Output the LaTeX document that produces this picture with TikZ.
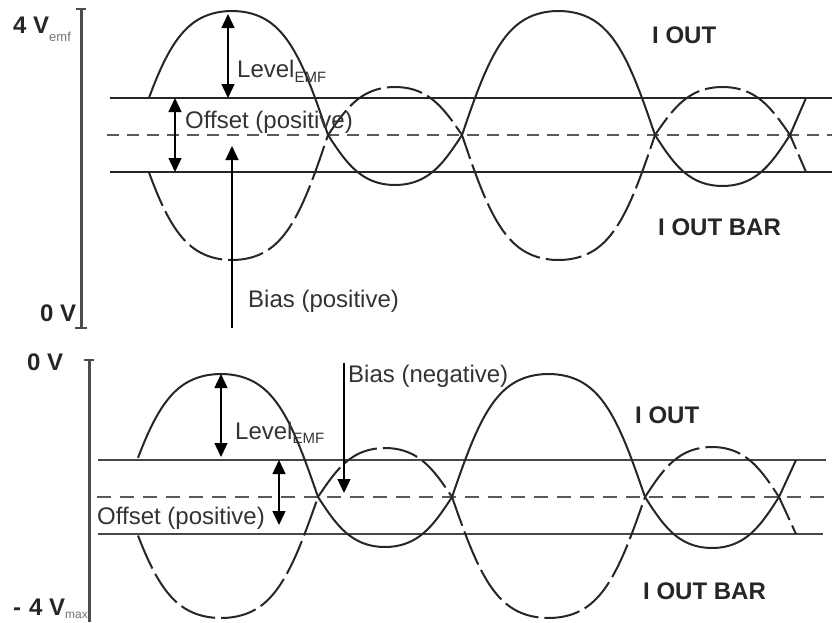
\documentclass[tikz,border=0pt]{standalone}
\usepackage{fontspec}
\setmainfont{Liberation Sans}
\usetikzlibrary{arrows.meta}
\begin{document}
\begin{tikzpicture}[x=1pt,y=-1pt,
  declare function={ss(\t,\a,\b)=sin(180*((\t-\a)/(\b-\a)));
                    lobe(\t,\a,\b)=ss(\t,\a,\b)*1.3/(1+0.3*ss(\t,\a,\b)*ss(\t,\a,\b));
                    blobe(\t,\a,\b)=ss(\t,\a,\b)*1.45/(1+0.45*ss(\t,\a,\b)*ss(\t,\a,\b));},
  wave/.style={line width=2pt, draw=black!85, line join=round},
  wavebar/.style={wave, dash pattern=on 36pt off 6pt},
  refline/.style={line width=1.5pt, draw=black!85},
  midline/.style={line width=1.2pt, draw=black!65, dash pattern=on 12pt off 8pt},
  axisline/.style={line width=3pt, draw=black!70},
  capline/.style={line width=1.8pt, draw=black!70},
  dimarrow/.style={line width=1.4pt, draw=black, {Triangle[length=14pt,width=13pt]}-{Triangle[length=14pt,width=13pt]}},
  onearrow/.style={line width=1.4pt, draw=black, -{Triangle[length=14pt,width=13pt]}},
  lbl/.style={anchor=base west, inner sep=0pt, font=\fontsize{24}{28}\selectfont, text=black!80},
  bigl/.style={anchor=base west, inner sep=0pt, font=\fontsize{24}{28}\selectfont\bfseries, text=black!85},
  smp/.style={samples=50, smooth, variable=\x},
]
\useasboundingbox (0,0) rectangle (832,622);

% ---------- top panel ----------
\coordinate (ax1t) at (81,9);
\coordinate (ax1b) at (81,328);
\draw[axisline] (ax1t) -- (ax1b);
\draw[capline] ([xshift=-5pt]ax1t) -- ([xshift=5pt]ax1t);
\draw[capline] ([xshift=-6pt]ax1b) -- ([xshift=6pt]ax1b);

\coordinate (u1a) at (110,98);  \coordinate (u1b) at (832,98);
\coordinate (l1a) at (110,172); \coordinate (l1b) at (832,172);
\coordinate (m1a) at (107,135); \coordinate (m1b) at (832,135);
\draw[refline] (u1a) -- (u1b);
\draw[refline] (l1a) -- (l1b);
\draw[midline] (m1a) -- (m1b);

\coordinate (e1u) at (806,98);
\coordinate (e1l) at (806,172);
\draw[wave]
  plot[smp,domain=149:328] (\x,{135-124*blobe(\x,136,328)})
  -- plot[smp,domain=328:462] (\x,{135+50*lobe(\x,328,462)})
  -- plot[smp,domain=462:655] (\x,{135-124*blobe(\x,462,655)})
  -- plot[smp,domain=655:790] (\x,{135+51*lobe(\x,655,790)})
  -- (e1u);
\draw[wavebar]
  plot[smp,domain=149:328] (\x,{135+125*blobe(\x,136,328)})
  -- plot[smp,domain=328:462] (\x,{135-48*lobe(\x,328,462)})
  -- plot[smp,domain=462:655] (\x,{135+125*blobe(\x,462,655)})
  -- plot[smp,domain=655:790] (\x,{135-48*lobe(\x,655,790)})
  -- (e1l);

\coordinate (lv1t) at (228,14);  \coordinate (lv1b) at (228,98);
\coordinate (of1t) at (175,98);  \coordinate (of1b) at (175,172);
\coordinate (bi1s) at (232,328); \coordinate (bi1e) at (232,146);
\draw[dimarrow] (lv1t) -- (lv1b);
\draw[dimarrow] (of1t) -- (of1b);
\draw[onearrow] (bi1s) -- (bi1e);

\node[lbl] (lev1) at (237,77) {Level\raisebox{-5pt}{\fontsize{15}{15}\selectfont EMF}};
\node[lbl] (off1) at (185,128) {Offset (positive)};
\node[lbl] (bias1) at (248,307) {Bias (positive)};
\node[bigl] (io1) at (652,43) {I OUT};
\node[bigl] (iob1) at (658,235) {I OUT BAR};
\node[bigl] (v4) at (13,33) {4 V\raisebox{-8pt}{\fontsize{13}{13}\selectfont\mdseries\color{black!55}emf}};
\node[bigl] (v0a) at (40,321) {0 V};

% ---------- bottom panel ----------
\coordinate (ax2t) at (89,360);
\coordinate (ax2b) at (89,622);
\draw[axisline] (ax2t) -- (ax2b);
\draw[capline] ([xshift=-5pt]ax2t) -- ([xshift=5pt]ax2t);

\coordinate (u2a) at (98,460);  \coordinate (u2b) at (826,460);
\coordinate (l2a) at (98,534);  \coordinate (l2b) at (823,534);
\coordinate (m2a) at (97,497);  \coordinate (m2b) at (832,497);
\draw[refline, line width=1.9pt, draw=black!72] (u2a) -- (u2b);
\draw[refline, line width=1.9pt, draw=black!72] (l2a) -- (l2b);
\draw[midline, dash pattern=on 14pt off 9pt] (m2a) -- (m2b);

\coordinate (e2u) at (796,460);
\coordinate (e2l) at (796,534);
\draw[wave]
  plot[smp,domain=138:318] (\x,{497-123*blobe(\x,124,318)})
  -- plot[smp,domain=318:452] (\x,{497+50*lobe(\x,318,452)})
  -- plot[smp,domain=452:645] (\x,{497-123*blobe(\x,452,645)})
  -- plot[smp,domain=645:779] (\x,{497+51*lobe(\x,645,779)})
  -- (e2u);
\draw[wavebar]
  plot[smp,domain=138:318] (\x,{497+121*blobe(\x,124,318)})
  -- plot[smp,domain=318:452] (\x,{497-49*lobe(\x,318,452)})
  -- plot[smp,domain=452:645] (\x,{497+121*blobe(\x,452,645)})
  -- plot[smp,domain=645:779] (\x,{497-50*lobe(\x,645,779)})
  -- (e2l);

\coordinate (lv2t) at (221,374); \coordinate (lv2b) at (221,457);
\coordinate (of2t) at (279,460); \coordinate (of2b) at (279,525);
\coordinate (bi2s) at (344,363); \coordinate (bi2e) at (344,493);
\draw[dimarrow] (lv2t) -- (lv2b);
\draw[dimarrow] (of2t) -- (of2b);
\draw[onearrow] (bi2s) -- (bi2e);

\node[lbl] (lev2) at (235,439) {Level\raisebox{-4pt}{\fontsize{15}{15}\selectfont EMF}};
\node[lbl] (off2) at (97,524) {Offset (positive)};
\node[lbl] (bias2) at (348,382) {Bias (negative)};
\node[bigl] (io2) at (635,423) {I OUT};
\node[bigl] (iob2) at (643,599) {I OUT BAR};
\node[bigl] (v0b) at (27,370) {0 V};
\node[bigl] (v4m) at (13,615) {-\,\,4 V\raisebox{-3pt}{\fontsize{12}{12}\selectfont\mdseries\color{black!55}max}};
\end{tikzpicture}
\end{document}
